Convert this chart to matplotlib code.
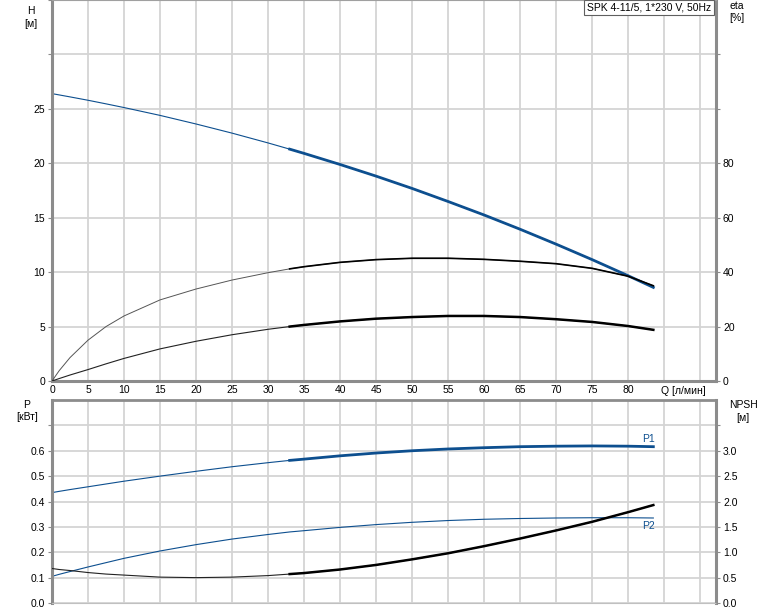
import numpy as np
import matplotlib.pyplot as plt

plt.rcParams['font.family'] = ['Liberation Sans', 'DejaVu Sans']
plt.rcParams['font.size'] = 7.5

# flow Q [l/min] and readings from the curves
q = [0, 1, 2.5, 5, 7.5, 10, 15, 20, 25, 30, 33, 35, 40, 45, 50, 55, 60, 65, 70, 75, 80, 83.5]
head = [26.4, 26.28, 26.1, 25.79, 25.46, 25.12, 24.40, 23.61, 22.77, 21.87, 21.30, 20.91,
        19.89, 18.82, 17.69, 16.49, 15.25, 13.94, 12.57, 11.15, 9.67, 8.6]
eta_pump = [0, 3.8, 8.6, 15.0, 20.0, 23.9, 29.8, 33.8, 37.1, 39.8, 41.2, 42.0,
            43.6, 44.6, 45.1, 45.1, 44.7, 44.0, 43.1, 41.4, 38.5, 35.0]
eta_total = [0, 0.9, 2.2, 4.2, 6.3, 8.3, 11.8, 14.6, 17.0, 19.0, 20.0, 20.6,
             21.9, 22.9, 23.5, 23.9, 23.9, 23.5, 22.7, 21.7, 20.2, 18.8]
p1 = [0.435, 0.440, 0.447, 0.458, 0.469, 0.480, 0.500, 0.519, 0.537, 0.553, 0.562, 0.567,
      0.580, 0.591, 0.600, 0.607, 0.612, 0.616, 0.618, 0.619, 0.618, 0.616]
p2 = [0.105, 0.113, 0.124, 0.142, 0.159, 0.176, 0.205, 0.230, 0.252, 0.270, 0.280, 0.285,
      0.298, 0.309, 0.318, 0.325, 0.330, 0.333, 0.335, 0.336, 0.336, 0.335]
npsh = [0.68, 0.66, 0.64, 0.60, 0.57, 0.55, 0.51, 0.50, 0.51, 0.54, 0.57, 0.59,
        0.66, 0.75, 0.86, 0.98, 1.12, 1.27, 1.43, 1.60, 1.79, 1.93]
q_duty = 33   # start of the bold (operating) range

x_ticks = [0, 5, 10, 15, 20, 25, 30, 35, 40, 45, 50, 55, 60, 65, 70, 75, 80]
title = "SPK 4-11/5, 1*230 V, 50Hz"

q = np.array(q)
bold = q >= q_duty
blue = "#0d4f8f"
grid_c = "#d4d4d4"
spine_c = "#8c8c8c"
W, H = 774, 611

fig = plt.figure(figsize=(W / 100, H / 100), dpi=100)
ax1 = fig.add_axes([52 / W, 230 / H, 664 / W, 381 / H])
ax2 = fig.add_axes([52 / W, 8 / H, 664 / W, 203 / H])


def yticks_fmt(ticks):
    if any(t != int(t) for t in ticks):
        return ["%.1f" % t for t in ticks]
    return ["%d" % t for t in ticks]


def style(ax, yl, yticks, nlab):
    ax.set_xlim(0, 92.2)
    ax.set_ylim(*yl)
    ax.set_xticks(np.arange(0, 91, 5))
    ax.set_yticks(yticks)
    ax.set_yticklabels([t if i < nlab else "" for i, t in enumerate(yticks_fmt(yticks))])
    ax.grid(True, color=grid_c, lw=1.3)
    ax.set_axisbelow(True)
    for s in ("left", "right"):
        ax.spines[s].set_color(spine_c)
        ax.spines[s].set_linewidth(2.2)
    ax.spines["top"].set_color("#a0a0a0")
    ax.spines["bottom"].set_color(spine_c)
    ax.tick_params(axis="y", length=3, color=spine_c, pad=2)
    ax.tick_params(axis="x", length=0, pad=3)


# --- top panel: H and efficiency
style(ax1, (0, 35), [0, 5, 10, 15, 20, 25, 30, 35], 6)
ax1.set_xticklabels([str(v) if v in x_ticks else "" for v in range(0, 91, 5)])
ax1.spines["bottom"].set_linewidth(2.2)
ax1.plot(q, head, color=blue, lw=0.8)
ax1.plot(q[bold], np.array(head)[bold], color=blue, lw=2)
ax1r = ax1.twinx()
ax1r.set_ylim(0, 140)
ax1r.set_yticks([0, 20, 40, 60, 80, 100, 120])
ax1r.set_yticklabels(["0", "20", "40", "60", "80", "", ""])
ax1r.tick_params(axis="y", length=3, color=spine_c, pad=2)
for s in ax1r.spines.values():
    s.set_visible(False)
ax1r.plot(q, eta_pump, color="#555555", lw=0.7)
ax1r.plot(q[bold], np.array(eta_pump)[bold], color="black", lw=1.2)
ax1r.plot(q, eta_total, color="#222222", lw=0.8)
ax1r.plot(q[bold], np.array(eta_total)[bold], color="black", lw=1.8)
ax1.annotate("Q [л/мин]", xy=(85, 0), xycoords=ax1.get_xaxis_transform(),
             xytext=(-2, -3.5), textcoords="offset points", ha="left", va="top")

# --- bottom panel: power and NPSH
style(ax2, (0, 0.8), [0, 0.1, 0.2, 0.3, 0.4, 0.5, 0.6, 0.7], 7)
ax2.set_xticklabels([])
ax2.spines["bottom"].set_color("#c0c0c0")
ax2.spines["top"].set_color(spine_c)
ax2.spines["top"].set_linewidth(2)
ax2.plot(q, p1, color=blue, lw=0.8)
ax2.plot(q[bold], np.array(p1)[bold], color=blue, lw=2)
ax2.plot(q, p2, color=blue, lw=0.8)
ax2r = ax2.twinx()
ax2r.set_ylim(0, 4)
ax2r.set_yticks([0, 0.5, 1, 1.5, 2, 2.5, 3, 3.5])
ax2r.set_yticklabels(["0.0", "0.5", "1.0", "1.5", "2.0", "2.5", "3.0", ""])
ax2r.tick_params(axis="y", length=3, color=spine_c, pad=2)
for s in ax2r.spines.values():
    s.set_visible(False)
ax2r.plot(q, npsh, color="#222222", lw=0.8)
ax2r.plot(q[bold], np.array(npsh)[bold], color="black", lw=1.8)
ax2.text(q[-1] - 1.5, p1[-1] + 0.012, "P1", color=blue, ha="left", va="bottom")
ax2.text(q[-1] - 1.5, p2[-1] - 0.012, "P2", color=blue, ha="left", va="top")


# --- corner labels
def ftext(px, py, s):
    fig.text(px / W, 1 - py / H, s, ha="center", va="center")


ftext(31, 11, "H")
ftext(31, 24, "[м]")
ftext(737, 6, "eta")
ftext(737, 18, "[%]")
ftext(27, 405, "P")
ftext(27, 417, "[кВт]")
ftext(743, 405, "NPSH")
ftext(743, 418, "[м]")
fig.text(649 / W, 1 - 7.5 / H, title, ha="center", va="center",
         bbox=dict(boxstyle="square,pad=0.25", fc="white", ec="#606060", lw=0.8))

fig.savefig("out.png", dpi=100)
